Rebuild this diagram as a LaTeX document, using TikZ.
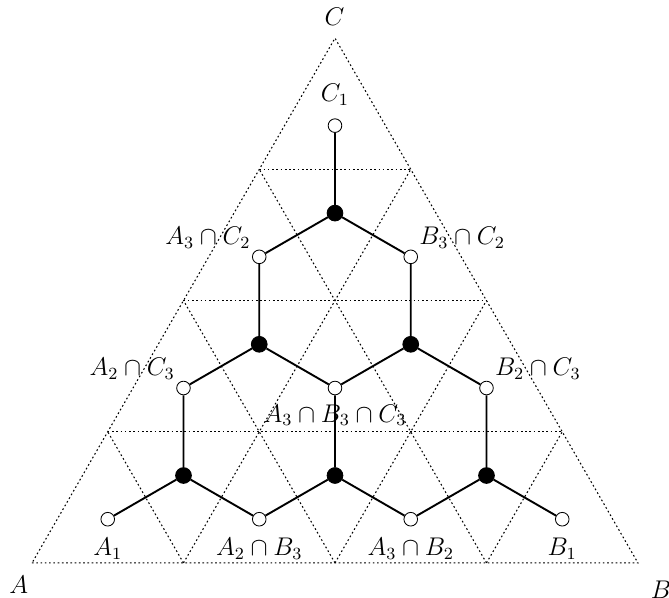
\documentclass[12pt,tikz,border=0pt]{standalone}
\usetikzlibrary{calc}
\begin{document}
\begin{tikzpicture}
\def\s{2.5}   % side of a small triangle
\def\h{2.165} % and its height
\tikzset{open/.style={circle,draw,fill=white,inner sep=0pt,minimum size=6.4pt},
         full/.style={circle,draw,fill=black,inner sep=0pt,minimum size=7.4pt},
         edge/.style={line width=0.9pt},
         grid/.style={line width=0.5pt,dash pattern=on 0.8pt off 1.2pt},
         below lab/.style={label={[label distance=1.1pt]below:$#1$}},
         above lab/.style={label={[label distance=1.8pt]above:$#1$}},
         left lab/.style={label={[label distance=-3.6pt]135:$#1$}},
         right lab/.style={label={[label distance=-3.6pt]45:$#1$}}}
\useasboundingbox (-0.528,-0.578) rectangle (10.512,9.290);

% the triangle ABC cut into 16 small triangles
\coordinate (A) at (0,0);
\coordinate (B) at (4*\s,0);
\coordinate (C) at (2*\s,4*\h);
\draw[grid] (A) -- (B) -- (C) -- cycle;
\foreach \i in {1,2,3}
{
    \draw[grid] ($(A)!\i/4!(B)$) -- ($(A)!\i/4!(C)$);
    \draw[grid] ($(B)!\i/4!(A)$) -- ($(B)!\i/4!(C)$);
    \draw[grid] ($(C)!\i/4!(A)$) -- ($(C)!\i/4!(B)$);
}
\node (lA) at (-0.22,-0.36) {$A$};
\node (lB) at (10.38,-0.45) {$B$};
\node (lC) at (4.99,9.02) {$C$};

% open nodes in the upward triangles
\node[open,below lab={A_1}] (A1) at ({0.5*\s},{\h/3}) {};
\node[open,below lab={A_2\cap B_3}] (A2B3) at ({1.5*\s},{\h/3}) {};
\node[open,below lab={A_3\cap B_2}] (A3B2) at ({2.5*\s},{\h/3}) {};
\node[open,below lab={B_1}] (B1) at ({3.5*\s},{\h/3}) {};
\node[open,left lab={A_2\cap C_3}] (A2C3) at ({\s},{4*\h/3}) {};
\node[open,label={[label distance=0.2pt]below:$A_3\cap B_3\cap C_3$}] (A3B3C3) at ({2*\s},{4*\h/3}) {};
\node[open,right lab={B_2\cap C_3}] (B2C3) at ({3*\s},{4*\h/3}) {};
\node[open,left lab={A_3\cap C_2}] (A3C2) at ({1.5*\s},{7*\h/3}) {};
\node[open,right lab={B_3\cap C_2}] (B3C2) at ({2.5*\s},{7*\h/3}) {};
\node[open,above lab={C_1}] (C1) at ({2*\s},{10*\h/3}) {};

% filled nodes in the downward triangles, each joined to its three neighbours
\foreach \f/\x/\y/\a/\b/\c in {f1/1/0/A1/A2B3/A2C3, f2/2/0/A2B3/A3B2/A3B3C3, f3/3/0/A3B2/B1/B2C3,
                                f4/1.5/1/A2C3/A3B3C3/A3C2, f5/2.5/1/A3B3C3/B2C3/B3C2, f6/2/2/A3C2/B3C2/C1}
{
    \node[full] (\f) at ({\x*\s},{(\y+2/3)*\h}) {};
    \draw[edge] (\f) -- (\a) (\f) -- (\b) (\f) -- (\c);
}
\end{tikzpicture}
\end{document}
